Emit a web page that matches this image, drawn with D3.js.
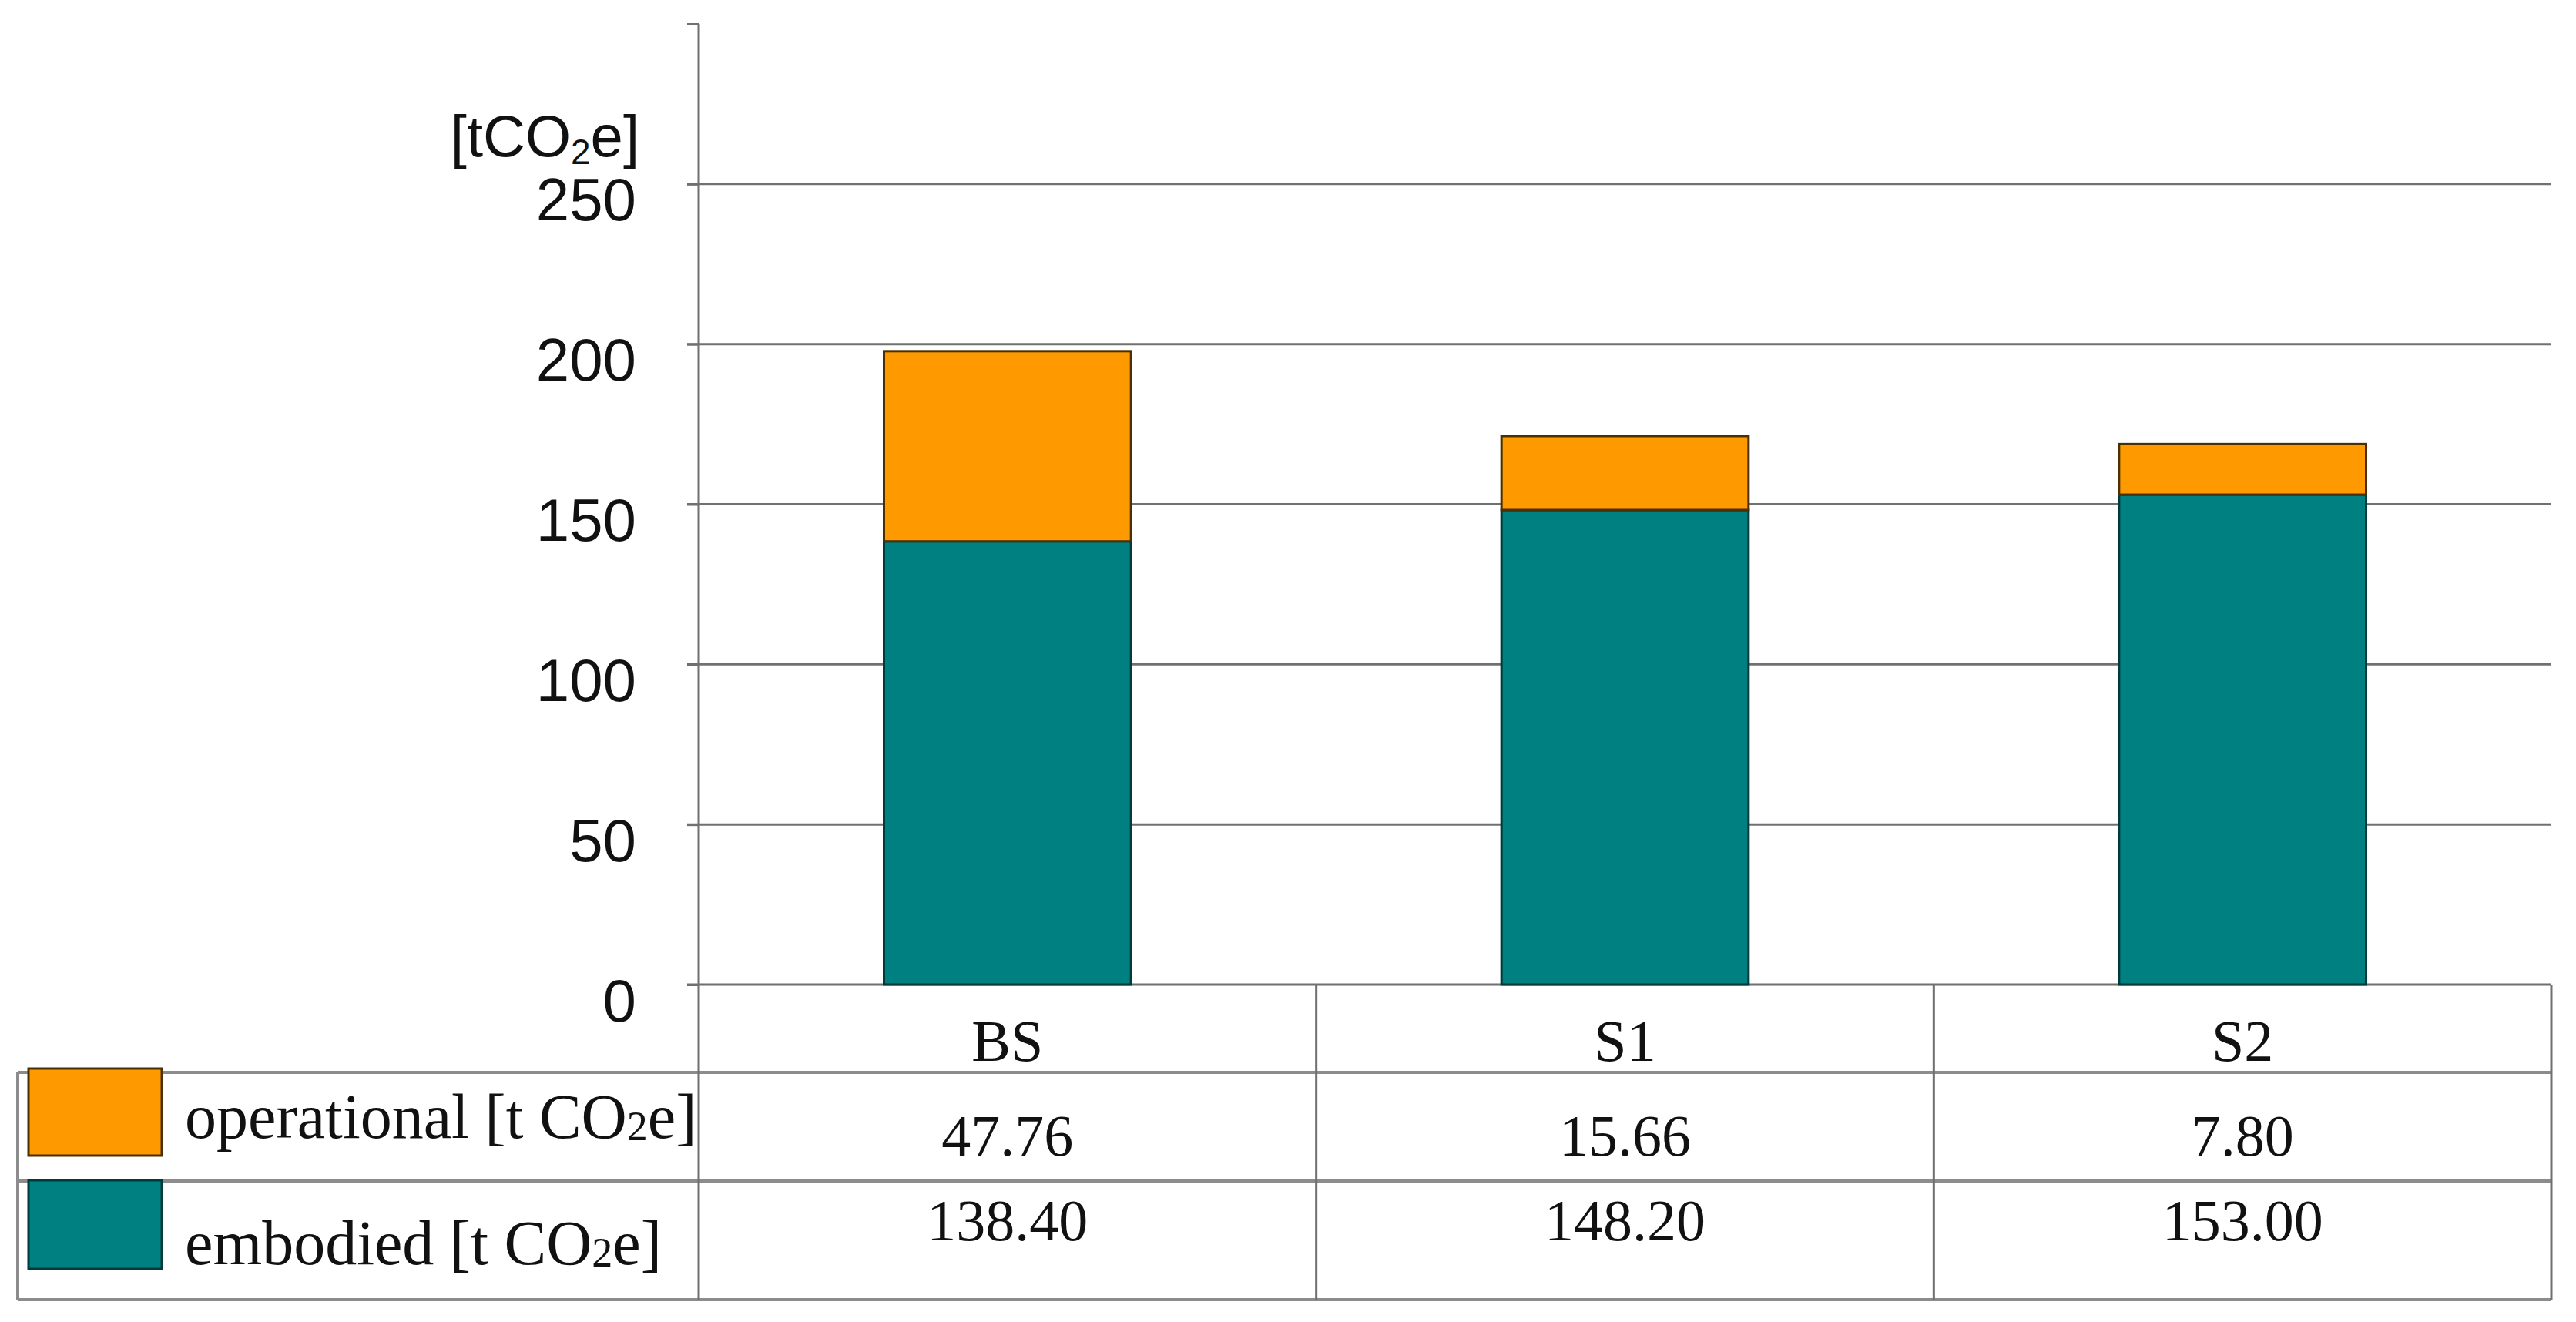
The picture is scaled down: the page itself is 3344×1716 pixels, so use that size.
<!DOCTYPE html>
<html>
<head>
<meta charset="utf-8">
<script src="https://cdn.jsdelivr.net/npm/d3@7"></script>
<style>
  html, body { margin: 0; padding: 0; background: #ffffff; }
  svg { display: block; }
</style>
</head>
<body>
<svg id="chart" width="3344" height="1716"></svg>
<script>
// ---------------- data ----------------
const categories = ["BS", "S1", "S2"];
const embodied = [138.4, 148.2, 153.0];          // bar segment heights as drawn
const operationalDrawn = [59.4, 23.1, 15.8];     // orange segment heights as drawn in the bars
const operationalTable = ["47.76", "15.66", "7.80"];
const embodiedTable = ["138.40", "148.20", "153.00"];
const yTicks = [0, 50, 100, 150, 200, 250];
const yAxisTop = 300;
const seriesNames = ["operational", "embodied"];
const seriesLabels = ["operational [t CO", "embodied [t CO"];

// ---------------- layout ----------------
const W = 3344, H = 1716;
const axisX = 907, rightX = 3312;
const y0 = 1278, yTop = 31;
const tableLeft = 23;
const rowLines = [1392, 1533, 1687];
const colors = { operational: "#FF9900", embodied: "#008080" };
const strokes = { operational: "#4a3000", embodied: "#003a3a" };

const svg = d3.select("#chart");
svg.append("rect").attr("width", W).attr("height", H).attr("fill", "#fff");

const x = d3.scaleBand().domain(categories).range([axisX, rightX])
  .paddingInner(0.6).paddingOuter(0.3);
const y = d3.scaleLinear().domain([0, yAxisTop]).range([y0, yTop]);

// gridlines
svg.append("g").selectAll("line").data(yTicks).join("line")
  .attr("x1", axisX - 15).attr("x2", rightX)
  .attr("y1", d => y(d)).attr("y2", d => y(d))
  .attr("stroke", "#707070").attr("stroke-width", 3);

// y axis ticks & labels
const yAxis = d3.axisLeft(y).tickValues(yTicks.concat([yAxisTop]))
  .tickSize(15).tickSizeOuter(0).tickPadding(66)
  .tickFormat(d => d === yAxisTop ? "" : d3.format("d")(d));
const gy = svg.append("g").attr("transform", `translate(${axisX},0)`).call(yAxis);
gy.select(".domain").remove();
gy.selectAll(".tick line").attr("stroke", "#707070").attr("stroke-width", 3);
gy.selectAll(".tick text")
  .attr("dy", null).attr("y", 47)
  .attr("font-family", "'Liberation Sans', Arial, sans-serif")
  .attr("font-size", 78).attr("fill", "#111");

// unit label
const unit = svg.append("text").attr("x", 830).attr("y", 203)
  .attr("text-anchor", "end")
  .attr("font-family", "'Liberation Sans', Arial, sans-serif")
  .attr("font-size", 76).attr("fill", "#111");
unit.append("tspan").text("[tCO");
unit.append("tspan").attr("font-size", 46).attr("dy", 10).text("2");
unit.append("tspan").attr("dy", -10).text("e]");

// stacked bars
const rows = categories.map((c, i) => ({ cat: c, embodied: embodied[i], operational: operationalDrawn[i] }));
const stack = d3.stack().keys(["embodied", "operational"])(rows);
svg.append("g").selectAll("g").data(stack).join("g")
  .attr("fill", d => colors[d.key]).attr("stroke", d => strokes[d.key])
  .selectAll("rect").data(d => d).join("rect")
  .attr("x", d => x(d.data.cat))
  .attr("width", x.bandwidth())
  .attr("y", d => y(d[1]))
  .attr("height", d => y(d[0]) - y(d[1]))
  .attr("stroke-width", 3);

// table lines
const tl = svg.append("g").attr("stroke", "#8c8c8c").attr("stroke-width", 4);
tl.selectAll("line.h").data(rowLines).join("line").attr("class", "h")
  .attr("x1", tableLeft).attr("x2", rightX)
  .attr("y1", d => d).attr("y2", d => d);
tl.append("line").attr("x1", tableLeft).attr("x2", tableLeft)
  .attr("y1", rowLines[0]).attr("y2", rowLines[2]);
const step = x.step();
const colEdges = d3.range(1, categories.length + 1).map(i => axisX + i * step);
tl.selectAll("line.v").data(colEdges).join("line").attr("class", "v")
  .attr("x1", d => d).attr("x2", d => d)
  .attr("y1", y0).attr("y2", rowLines[2])
  .attr("stroke-width", 3).attr("stroke", "#707070");
svg.append("line").attr("x1", axisX).attr("x2", axisX)
  .attr("y1", yTop).attr("y2", rowLines[2])
  .attr("stroke", "#707070").attr("stroke-width", 3);

// table text
const serif = "'Liberation Serif', 'Times New Roman', serif";
const colCenter = c => axisX + (categories.indexOf(c) + 0.5) * step;
svg.append("g").selectAll("text").data(categories).join("text")
  .attr("x", d => colCenter(d)).attr("y", 1377)
  .attr("text-anchor", "middle").attr("font-family", serif)
  .attr("font-size", 76).attr("fill", "#111").text(d => d);
svg.append("g").selectAll("text").data(operationalTable).join("text")
  .attr("x", (d, i) => colCenter(categories[i])).attr("y", 1500)
  .attr("text-anchor", "middle").attr("font-family", serif)
  .attr("font-size", 76).attr("fill", "#111").text(d => d);
svg.append("g").selectAll("text").data(embodiedTable).join("text")
  .attr("x", (d, i) => colCenter(categories[i])).attr("y", 1610)
  .attr("text-anchor", "middle").attr("font-family", serif)
  .attr("font-size", 76).attr("fill", "#111").text(d => d);

// legend swatches + labels
const legendRows = [
  { key: "operational", label: seriesLabels[0], top: 1387, h: 113, base: 1477 },
  { key: "embodied", label: seriesLabels[1], top: 1532, h: 115, base: 1641 }
];
legendRows.forEach(r => {
  svg.append("rect").attr("x", 37).attr("y", r.top).attr("width", 173).attr("height", r.h)
    .attr("fill", colors[r.key]).attr("stroke", strokes[r.key]).attr("stroke-width", 3);
  const t = svg.append("text").attr("x", 240).attr("y", r.base)
    .attr("font-family", serif).attr("font-size", 82).attr("fill", "#111");
  t.append("tspan").text(r.label);
  t.append("tspan").attr("font-size", 54).attr("dy", 3).text("2");
  t.append("tspan").attr("dy", -3).text("e]");
});
</script>
</body>
</html>
